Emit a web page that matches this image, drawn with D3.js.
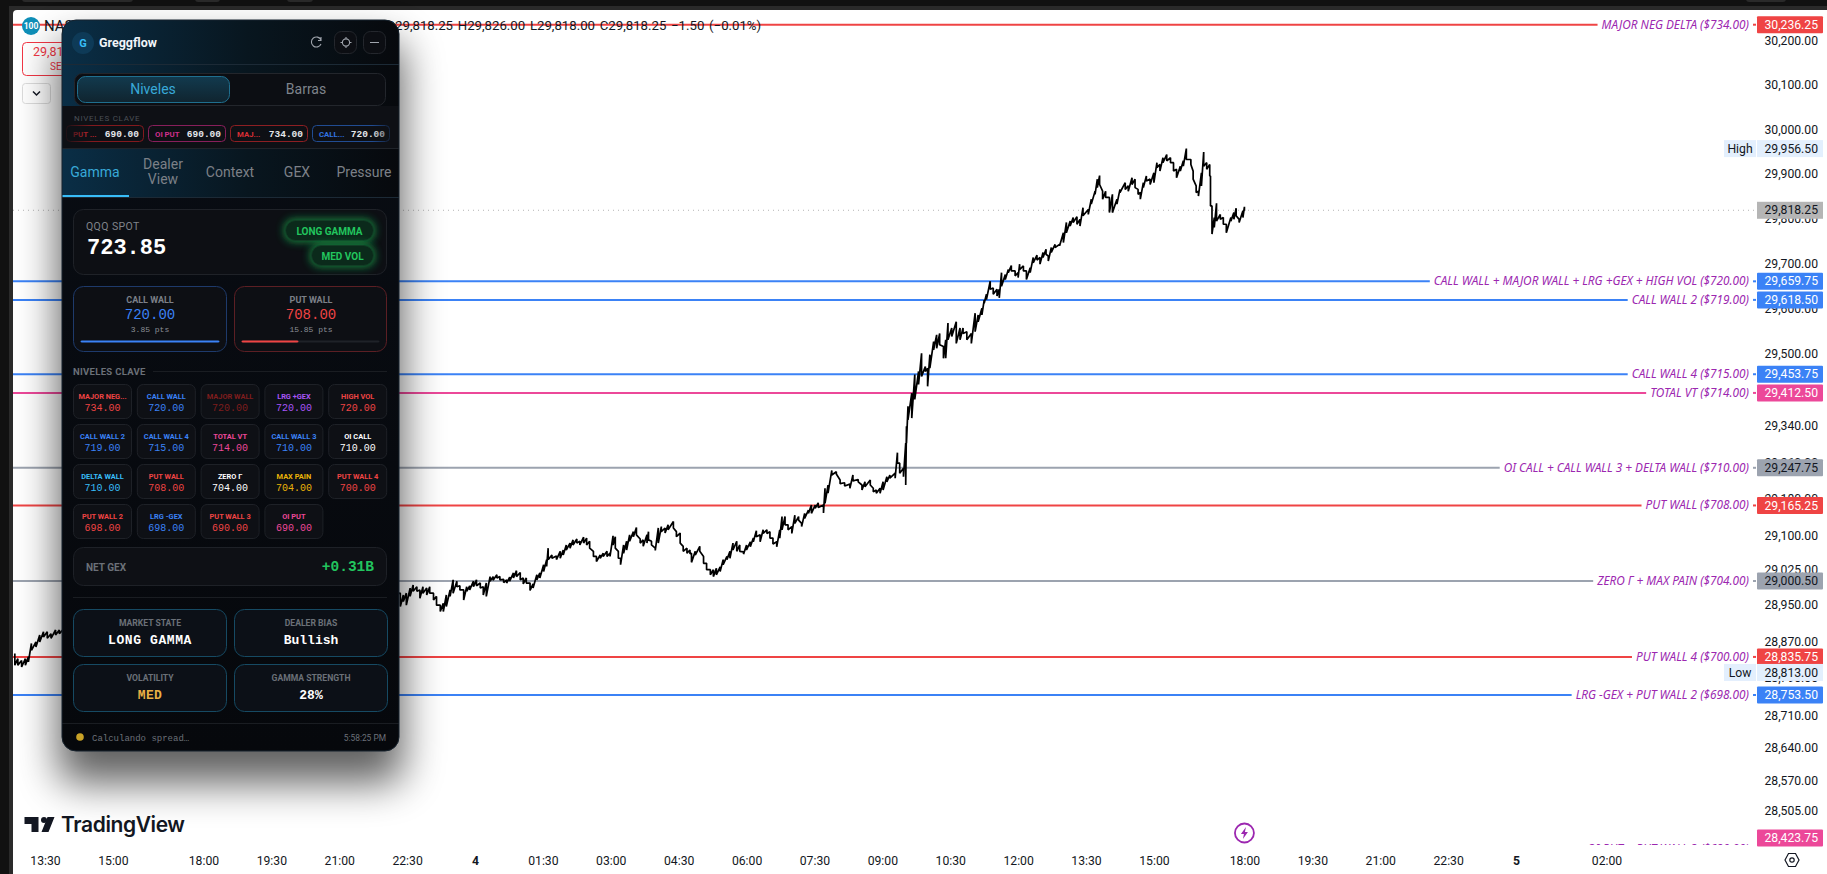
<!DOCTYPE html>
<html>
<head>
<meta charset="utf-8">
<title>NAS100 Greggflow</title>
<script src="https://cdn.jsdelivr.net/npm/d3@7"></script>
<style>
html, body { margin: 0; padding: 0; background: #101010; overflow: hidden; }
svg { display: block; }
</style>
</head>
<body>
<div id="chart"></div>
<script>
// minutes after 13:30 on the first session (closed hour removed), high and low
const barMinute = [-40,-36,-31,-26,-22,-18,-12,-7,-2,3,8,14,19,24,
471,475,479,484,488,493,497,501,506,510,515,519,524,528,532,537,541,546,550,555,559,563,568,572,577,581,585,590,594,599,603,608,612,616,621,625,630,634,638,643,647,652,656,661,665,667,672,678,683,687,691,696,700,705,709,714,718,722,727,731,736,740,745,749,753,756,760,763,767,771,775,780,784,789,793,798,800,804,809,813,817,822,826,833,837,842,846,851,855,857,862,868,873,877,882,886,890,895,899,904,908,912,917,921,
926,930,935,939,943,948,952,957,961,965,970,974,977,981,985,990,994,999,1003,1007,1012,1016,1021,1025,1032,1034,1038,1043,1049,1054,1060,1067,1071,1078,
1083,1087,1094,1098,1102,1107,1111,1116,1120,1127,1130,1133,1138,1141,1142,1144,1149,1153,1158,1162,1167,1170,1173,1178,1182,1186,1191,1194,1197,1202,1208,1213,1217,1222,1228,1233,1237,1242,1245,
1248,1253,1257,1262,1265,1268,1273,1277,1281,1286,1290,1292,1297,1301,1306,1310,1315,1319,1323,1327,1330,1334,1339,1345,1350,1354,1359,1363,1368,1372,1376,1383,1387,1392,1395,1398,1402,1406,1411,1415,1421,1425,1432,1436,1441,1445,1449,1452,1456,1460,1465,1470,1474,1478,1482,1487,1492,1496,1500,1505,1509,1513,1519,1522,1526,1529,1533,1536,1540,1544,1545,1547,1550,1553,1558,1562,1566,1572,1576,1579,1583,1588,1590];
const barHigh = [28843,28832,28828,28832,28836,28865,28868,28883,28890,28890,28886,28894,28894,28895,
28974,28970,28974,28985,28992,28988,28981,28988,28985,28988,28974,28967,28948,28952,28970,28981,29003,29000,28990,28981,28988,28990,29000,29003,28996,28988,28996,29010,29010,29014,29010,29004,29003,29009,29018,29023,29019,29007,29007,28996,28994,29014,29018,29036,29047,29072,29057,29055,29065,29068,29079,29083,29090,29092,29087,29096,29094,29087,29065,29054,29057,29061,29065,29061,29099,29097,29065,29050,29079,29087,29101,29108,29117,29092,29090,29101,29108,29087,29072,29116,29119,29116,29123,29130,29108,29105,29076,29072,29068,29061,29065,29076,29054,29039,29025,29025,29028,29031,29047,29054,29065,29083,29087,29079,
29064,29079,29086,29094,29110,29101,29112,29112,29108,29094,29086,29112,29141,29141,29123,29119,29144,29141,29126,29148,29155,29166,29166,29171,29166,29203,29210,29242,29239,29221,29215,29212,29232,29222,
29210,29217,29221,29203,29199,29203,29217,29228,29232,29236,29281,29258,29247,29302,29339,29383,29412,29453,29460,29500,29471,29467,29497,29526,29541,29544,29515,29530,29567,29556,29570,29556,29556,29548,29544,29589,29585,29600,29618,
29631,29660,29645,29642,29642,29679,29675,29686,29695,29683,29679,29698,29694,29683,29690,29713,29718,29713,29724,29731,29716,29735,29742,29742,29768,29791,29794,29802,29804,29798,29824,29820,29843,29861,29888,29896,29861,29861,29847,29854,29843,29865,29880,29873,29891,29888,29865,29858,29880,29895,29888,29902,29925,29921,29936,29943,29936,29925,29910,29917,29929,29956.5,29932,29906,29873,29861,29902,29949,29925,29921,29895,29828,29802,29834,29809,29802,29787,29802,29813,29823,29798,29817,29826];
const barLow = [28818,28818,28814,28818,28825,28850,28857,28868,28879,28876,28876,28883,28886,28888,
28945,28956,28948,28967,28978,28978,28963,28974,28970,28974,28959,28948,28934,28934,28945,28967,28974,28988,28981,28959,28978,28981,28988,28990,28985,28970,28967,29000,29002,29007,29003,28997,28996,29000,29007,29010,29003,28994,28996,28980,28985,29003,29007,29021,29032,29047,29050,29047,29050,29057,29068,29072,29079,29083,29079,29083,29079,29072,29054,29043,29050,29054,29054,29054,29079,29072,29050,29036,29061,29068,29087,29097,29101,29083,29076,29083,29090,29079,29067,29083,29108,29105,29112,29116,29097,29083,29065,29061,29060,29041,29057,29065,29039,29025,29014,29010,29014,29021,29036,29047,29050,29068,29065,29065,
29059,29068,29075,29086,29097,29086,29104,29104,29094,29081,29075,29094,29112,29123,29112,29104,29126,29133,29119,29137,29148,29148,29159,29161,29149,29170,29192,29232,29234,29213,29208,29203,29219,29217,
29199,29206,29210,29195,29192,29192,29199,29217,29225,29225,29258,29236,29228,29210,29302,29353,29357,29398,29431,29449,29460,29427,29467,29508,29511,29519,29489,29489,29530,29537,29522,29530,29544,29530,29522,29548,29570,29585,29611,
29619,29642,29631,29627,29623,29649,29664,29679,29683,29672,29668,29686,29683,29664,29679,29701,29707,29698,29713,29720,29705,29724,29735,29739,29746,29768,29783,29791,29787,29783,29806,29809,29832,29854,29869,29876,29843,29847,29813,29813,29832,29858,29865,29861,29876,29869,29854,29843,29869,29884,29876,29880,29914,29906,29925,29929,29925,29906,29891,29906,29917,29932,29921,29888,29858,29850,29873,29917,29910,29895,29828,29765,29780,29794,29798,29787,29768,29794,29798,29806,29791,29802,29817];

const priceTicks = [30200,30100,30000,29900,29800,29700,29600,29500,29420,29340,29260,29180,29100,29025,28950,28870,28790,28710,28640,28570,28505];
const timeTicks = [0,90,210,300,390,480,570,660,750,840,930,1020,1110,1200,1290,1380,1470,1590,1680,1770,1860,1950,2070];
const timeLabels = ['13:30','15:00','18:00','19:30','21:00','22:30','4','01:30','03:00','04:30','06:00','07:30','09:00','10:30','12:00','13:30','15:00','18:00','19:30','21:00','22:30','5','02:00'];

const levelPrices = [30236.25,29659.75,29618.50,29453.75,29412.50,29247.75,29165.25,29000.50,28835.75,28753.50,28423.75];
const levelNames = ['MAJOR NEG DELTA ($734.00)','CALL WALL + MAJOR WALL + LRG +GEX + HIGH VOL ($720.00)','CALL WALL 2 ($719.00)','CALL WALL 4 ($715.00)','TOTAL VT ($714.00)','OI CALL + CALL WALL 3 + DELTA WALL ($710.00)','PUT WALL ($708.00)','ZERO Γ + MAX PAIN ($704.00)','PUT WALL 4 ($700.00)','LRG -GEX + PUT WALL 2 ($698.00)','OI PUT + PUT WALL 3 ($690.00)'];
const levelColors = ['#ef4444','#3b82f6','#3b82f6','#3b82f6','#ec4899','#9ca3af','#ef4444','#9ca3af','#ef4444','#3b82f6','#ec4899'];

const chipNames = ['PUT ...','OI PUT','MAJ...','CALL...'];
const chipValues = ['690.00','690.00','734.00','720.00'];
const chipColors = ['#c8262e','#d02f8c','#d82f35','#3274e0'];

const gridNames = ['MAJOR NEG...','CALL WALL','MAJOR WALL','LRG +GEX','HIGH VOL','CALL WALL 2','CALL WALL 4','TOTAL VT','CALL WALL 3','OI CALL','DELTA WALL','PUT WALL','ZERO Γ','MAX PAIN','PUT WALL 4','PUT WALL 2','LRG -GEX','PUT WALL 3','OI PUT'];
const gridValues = ['734.00','720.00','720.00','720.00','720.00','719.00','715.00','714.00','710.00','710.00','710.00','708.00','704.00','704.00','700.00','698.00','698.00','690.00','690.00'];
const gridColors = ['#ef4444','#3b82f6','#7f1d1d','#a855f7','#ef4444','#3b82f6','#3b82f6','#ec4899','#3b82f6','#ffffff','#38bdf8','#ef4444','#ffffff','#eab308','#ef4444','#ef4444','#3b82f6','#ef4444','#ec4899'];

const stateNames = ['MARKET STATE','DEALER BIAS','VOLATILITY','GAMMA STRENGTH'];
const stateValues = ['LONG GAMMA','Bullish','MED','28%'];
const stateColors = ['#ffffff','#ffffff','#eab045','#ffffff'];
const stateSpacing = [0.6, 0, 0.4, 0];

const uiFont = 'Roboto, sans-serif';
const monoFont = '"Liberation Mono", monospace';
const W = 1827, H = 874;
const paneLeft = 13, paneTop = 10, paneBottom = 845, axisLeft = 1757;

const svg = d3.select('#chart').append('svg').attr('width', W).attr('height', H);
const defs = svg.append('defs');

defs.append('clipPath').attr('id', 'pane').append('rect').attr('x', paneLeft).attr('y', paneTop).attr('width', W - paneLeft).attr('height', paneBottom - paneTop);
defs.append('filter').attr('id', 'shadow').attr('x', '-40%').attr('y', '-20%').attr('width', '180%').attr('height', '140%')
	.append('feGaussianBlur').attr('stdDeviation', 20);
defs.append('filter').attr('id', 'glow').attr('x', '-40%').attr('y', '-80%').attr('width', '180%').attr('height', '260%')
	.append('feGaussianBlur').attr('stdDeviation', 4);

function linear(id, x2, y2, stops) {
	const g = defs.append('linearGradient').attr('id', id).attr('x1', 0).attr('y1', 0).attr('x2', x2).attr('y2', y2);
	stops.forEach(s => g.append('stop').attr('offset', s[0]).attr('stop-color', s[1]));
}
linear('panelBand', 1, 0, [[0, '#0a2e46'], [0.55, '#08161f'], [1, '#07090d']]);
linear('panelBody', 0, 1, [[0, '#090d14'], [1, '#06080c']]);
linear('activeTab', 0, 1, [[0, '#123a4e'], [1, '#10242f']]);
linear('fadeL', 1, 0, [[0, '#0e1015'], [1, 'rgba(14,16,21,0)']]);
linear('fadeR', 1, 0, [[0, 'rgba(14,16,21,0)'], [1, '#0e1015']]);

// window chrome around the chart
svg.append('rect').attr('x', 0).attr('y', 0).attr('width', W).attr('height', H).attr('fill', '#111111');
svg.append('rect').attr('x', 9).attr('y', 6).attr('width', W).attr('height', H).attr('fill', '#2a2a2a');
[[22, 111], [195, 25], [287, 26], [1746, 40]].forEach(t => {
	svg.append('rect').attr('x', t[0]).attr('y', -4).attr('width', t[1]).attr('height', 6).attr('rx', 3).attr('fill', '#2a2a2a');
});
svg.append('rect').attr('x', paneLeft).attr('y', paneTop).attr('width', W).attr('height', H).attr('rx', 4).attr('fill', '#ffffff');

const y = d3.scaleLog().domain([30236.25, 28753.5]).range([24.7, 695]);
const x = d3.scaleLinear().domain([0, 1950]).range([45, 1516]);

// level lines and labels
const chart = svg.append('g').attr('clip-path', 'url(#pane)');
chart.append('line').attr('x1', paneLeft).attr('x2', axisLeft - 2).attr('y1', y(29818.25)).attr('y2', y(29818.25))
	.attr('stroke', '#b4b4b4').attr('stroke-dasharray', '1 4');

const labelRight = 1749;
const levels = chart.selectAll('g.level').data(levelPrices).join('g').attr('class', 'level');
levels.append('text')
	.attr('x', labelRight).attr('y', d => y(d) + 4)
	.attr('text-anchor', 'end').attr('font-family', '"Noto Sans", sans-serif').attr('font-style', 'italic').attr('font-size', 11.8)
	.attr('fill', '#9c27b0').text((d, i) => levelNames[i]);
levels.append('line')
	.attr('x1', paneLeft)
	.attr('x2', function() { return labelRight - this.parentNode.querySelector('text').getComputedTextLength() - 4; })
	.attr('y1', d => y(d)).attr('y2', d => y(d))
	.attr('stroke', (d, i) => levelColors[i]).attr('stroke-width', 2);
levels.append('line')
	.attr('x1', 1753).attr('x2', 1756).attr('y1', d => y(d)).attr('y2', d => y(d))
	.attr('stroke', (d, i) => levelColors[i]).attr('stroke-width', 2);

// price path, high then low on every bar
const pathPoints = barMinute.flatMap((m, i) => [[m, barHigh[i]], [m, barLow[i]]]);
chart.append('path').datum(pathPoints)
	.attr('fill', 'none').attr('stroke', '#000').attr('stroke-width', 1.7).attr('stroke-linejoin', 'bevel')
	.attr('d', d3.line().x(d => x(d[0])).y(d => y(d[1])));

// axes
const yAxis = svg.append('g').attr('transform', `translate(1818,0)`)
	.call(d3.axisRight(y).tickValues(priceTicks).tickFormat(d3.format(',.2f')).tickSize(0));
yAxis.select('.domain').remove();
yAxis.selectAll('text').attr('x', 0).attr('text-anchor', 'end').attr('font-family', uiFont).attr('font-size', 12.2).attr('fill', '#131722');

const xAxis = svg.append('g').attr('transform', `translate(0,${paneBottom})`)
	.call(d3.axisBottom(x).tickValues(timeTicks).tickFormat((d, i) => timeLabels[i]).tickSize(0));
xAxis.select('.domain').remove();
xAxis.selectAll('text').attr('y', 11).attr('font-family', uiFont).attr('font-size', 12.2).attr('fill', '#131722')
	.attr('font-weight', (d, i) => timeLabels[i].length === 1 ? 700 : 400);

// price tags, the last one is pushed up by the pane edge
const tags = svg.append('g').selectAll('g').data(levelPrices).join('g')
	.attr('transform', d => `translate(${axisLeft},${Math.min(y(d), paneBottom - 7) - 8.5})`);
tags.append('rect').attr('width', 66).attr('height', 17).attr('rx', 1)
	.attr('fill', (d, i) => levelColors[i]);
tags.append('text').attr('x', 61).attr('y', 12.6).attr('text-anchor', 'end')
	.attr('font-family', uiFont).attr('font-size', 12.2)
	.attr('fill', (d, i) => levelColors[i] === '#9ca3af' ? '#131722' : '#ffffff')
	.text(d => d3.format(',.2f')(d));

function priceTag(price, color, label, nudge) {
	const g = svg.append('g').attr('transform', `translate(${axisLeft},${y(price) - 8.5 + (nudge || 0)})`);
	g.append('rect').attr('width', 66).attr('height', 17).attr('fill', color);
	g.append('text').attr('x', 61).attr('y', 12.6).attr('text-anchor', 'end').attr('font-family', uiFont).attr('font-size', 12.2).attr('fill', '#131722').text(d3.format(',.2f')(price));
	if (label) {
		g.append('rect').attr('x', -33).attr('width', 32).attr('height', 17).attr('fill', color);
		g.append('text').attr('x', -17).attr('y', 12.6).attr('text-anchor', 'middle').attr('font-family', uiFont).attr('font-size', 12.2).attr('fill', '#131722').text(label);
	}
}
priceTag(29818.25, '#b5b5b5');
priceTag(29956.5, '#e3effd', 'High');
priceTag(28813, '#e3effd', 'Low', 5);

// symbol row, mostly hidden by the panel
svg.append('circle').attr('cx', 31).attr('cy', 26).attr('r', 9).attr('fill', '#0f8fb8');
svg.append('text').attr('x', 31).attr('y', 29).attr('text-anchor', 'middle').attr('font-family', uiFont).attr('font-size', 8.5).attr('font-weight', 700).attr('fill', '#fff').text('100');
svg.append('text').attr('x', 44).attr('y', 31).attr('font-family', uiFont).attr('font-size', 15).attr('fill', '#131722').text('NAS100');
svg.append('text').attr('x', 386).attr('y', 30).attr('font-family', uiFont).attr('font-size', 13.2).attr('word-spacing', 1.5).attr('fill', '#131722')
	.text('O29,818.25 H29,826.00 L29,818.00 C29,818.25 −1.50 (−0.01%)');
svg.append('rect').attr('x', 22.5).attr('y', 42.5).attr('width', 60).attr('height', 33).attr('rx', 4).attr('fill', '#fff').attr('stroke', '#f23645');
svg.append('text').attr('x', 33).attr('y', 56).attr('font-family', uiFont).attr('font-size', 12.5).attr('fill', '#f23645').text('29,818');
svg.append('text').attr('x', 50).attr('y', 70).attr('font-family', uiFont).attr('font-size', 10).attr('fill', '#f23645').text('SELL');
svg.append('rect').attr('x', 22.5).attr('y', 83.5).attr('width', 28).attr('height', 20).attr('rx', 3).attr('fill', '#fff').attr('stroke', '#dcdcdc');
svg.append('path').attr('d', 'M33 91.5l3.5 3.5 3.5-3.5').attr('fill', 'none').attr('stroke', '#131722').attr('stroke-width', 1.5);

// TradingView mark, lightning badge and settings glyph
svg.append('path').attr('fill', '#131722').attr('d', 'M24.5 817h14v15h-7v-8h-7z M41.5 832l6-15h7l-6 15z');
svg.append('circle').attr('cx', 44).attr('cy', 820).attr('r', 3).attr('fill', '#131722');
svg.append('text').attr('x', 61).attr('y', 832).attr('font-family', 'Inter, sans-serif').attr('font-weight', 600).attr('font-size', 21).attr('letter-spacing', -0.4).attr('fill', '#131722').text('TradingView');
svg.append('circle').attr('cx', x(1590)).attr('cy', 833).attr('r', 9.5).attr('fill', '#fff').attr('stroke', '#9c27b0').attr('stroke-width', 1.8);
svg.append('path').attr('transform', `translate(${x(1590)},833)`).attr('d', 'M1.5 -6l-5 7h3l-1 5 5-7h-3z').attr('fill', '#9c27b0');
svg.append('path').attr('d', 'M1785 860l3.5-6.5h7l3.5 6.5-3.5 6.5h-7z').attr('fill', 'none').attr('stroke', '#131722').attr('stroke-width', 1.2);
svg.append('circle').attr('cx', 1792).attr('cy', 860).attr('r', 2.2).attr('fill', 'none').attr('stroke', '#131722').attr('stroke-width', 1.2);

// ---- Greggflow panel ----
const px = 62, py = 20, pw = 337, ph = 731;
svg.append('rect').attr('x', px - 4).attr('y', py + 22).attr('width', pw + 8).attr('height', ph + 10).attr('rx', 16)
	.attr('fill', '#000').attr('opacity', 0.62).attr('filter', 'url(#shadow)');
const panelClip = defs.append('clipPath').attr('id', 'panelClip');
panelClip.append('rect').attr('x', px).attr('y', py).attr('width', pw).attr('height', ph).attr('rx', 14);
svg.append('rect').attr('x', px).attr('y', py).attr('width', pw).attr('height', ph).attr('rx', 14).attr('fill', 'url(#panelBody)');
const panel = svg.append('g').attr('clip-path', 'url(#panelClip)');

function box(parent, bx, by, bw, bh, r, fill, stroke) {
	return parent.append('rect').attr('x', bx + 0.5).attr('y', by + 0.5).attr('width', bw - 1).attr('height', bh - 1).attr('rx', r)
		.attr('fill', fill).attr('stroke', stroke || 'none');
}
function label(parent, tx, ty, text, size, color, opts) {
	const o = opts || {};
	return parent.append('text').attr('x', tx).attr('y', ty).attr('font-family', o.font || uiFont).attr('font-size', size).attr('fill', color)
		.attr('font-weight', o.weight || 400).attr('text-anchor', o.anchor || 'start').attr('letter-spacing', o.spacing || 0).text(text);
}
const middle = { anchor: 'middle' };

// header
panel.append('rect').attr('x', px).attr('y', py).attr('width', pw).attr('height', 44).attr('fill', 'url(#panelBand)');
panel.append('line').attr('x1', px).attr('x2', px + pw).attr('y1', 64.5).attr('y2', 64.5).attr('stroke', '#1c2a36');
panel.append('circle').attr('cx', 83).attr('cy', 43).attr('r', 11).attr('fill', '#0f3f5c').attr('opacity', 0.8);
label(panel, 83, 47, 'G', 11, '#38bdf8', { anchor: 'middle', weight: 700 });
label(panel, 99, 47, 'Greggflow', 12.5, '#f1f5f9', { weight: 700 });
panel.append('path').attr('d', 'M321 40a5 5 0 1 0 0 4 M321 37v3.5h-3').attr('fill', 'none').attr('stroke', '#a0a5ad').attr('stroke-width', 1.1);
box(panel, 334, 31, 23, 23, 7, '#0c0e13', '#24272d');
box(panel, 363, 31, 23, 23, 7, '#0c0e13', '#24272d');
panel.append('circle').attr('cx', 346).attr('cy', 42.5).attr('r', 3.6).attr('fill', 'none').attr('stroke', '#a0a5ad').attr('stroke-width', 1.1);
panel.append('path').attr('d', 'M346 37v1.6M346 46.4v1.6M340.5 42.5h1.6M349.9 42.5h1.6').attr('stroke', '#a0a5ad').attr('stroke-width', 1.1);
panel.append('line').attr('x1', 370).attr('x2', 379).attr('y1', 42.5).attr('y2', 42.5).attr('stroke', '#a0a5ad').attr('stroke-width', 1.1);

// niveles / barras switch
panel.append('rect').attr('x', px).attr('y', 65).attr('width', pw).attr('height', 41).attr('fill', 'url(#panelBand)');
box(panel, 74, 73, 312, 33, 8, '#0c0e13', '#23262c');
box(panel, 77, 76, 153, 27, 8, 'url(#activeTab)', '#1f6f8f');
label(panel, 153, 94, 'Niveles', 14, '#38a9d8', middle);
label(panel, 306, 94, 'Barras', 14, '#7f848c', middle);

// chip strip
panel.append('rect').attr('x', px).attr('y', 106).attr('width', pw).attr('height', 43).attr('fill', '#0e1015');
panel.append('line').attr('x1', px).attr('x2', px + pw).attr('y1', 148.5).attr('y2', 148.5).attr('stroke', '#20242a');
label(panel, 74, 121, 'NIVELES CLAVE', 8, '#4b4f55', { spacing: 0.7 });
const chipX = d3.scaleLinear().domain([0, 1]).range([66, 148]);
const chips = panel.selectAll('g.chip').data(chipNames).join('g').attr('class', 'chip')
	.attr('transform', (d, i) => `translate(${chipX(i)},125)`);
chips.append('rect').attr('x', 0.5).attr('y', 0.5).attr('width', 77).attr('height', 16).attr('rx', 4)
	.attr('fill', '#0e1015').attr('stroke', (d, i) => d3.color(chipColors[i]).darker(1.2));
chips.append('text').attr('x', 7).attr('y', 11.5).attr('font-family', uiFont).attr('font-size', 7.8).attr('font-weight', 700)
	.attr('fill', (d, i) => chipColors[i]).text(d => d);
chips.append('text').attr('x', 73).attr('y', 11.5).attr('text-anchor', 'end').attr('font-family', monoFont).attr('font-size', 9.5).attr('font-weight', 700)
	.attr('fill', '#e5e7eb').text((d, i) => chipValues[i]);
panel.append('rect').attr('x', 62).attr('y', 122).attr('width', 30).attr('height', 24).attr('fill', 'url(#fadeL)');
panel.append('rect').attr('x', 372).attr('y', 122).attr('width', 27).attr('height', 24).attr('fill', 'url(#fadeR)');

// main tabs
panel.append('rect').attr('x', px).attr('y', 149).attr('width', pw).attr('height', 48).attr('fill', 'url(#panelBand)');
panel.append('line').attr('x1', px).attr('x2', px + pw).attr('y1', 197.5).attr('y2', 197.5).attr('stroke', '#1c2a36');
panel.append('rect').attr('x', px).attr('y', 195).attr('width', 67).attr('height', 2).attr('fill', '#38bdf8');
label(panel, 95, 177, 'Gamma', 14, '#38a9d8', middle);
label(panel, 163, 169, 'Dealer', 14, '#7c8087', middle);
label(panel, 163, 184, 'View', 14, '#7c8087', middle);
label(panel, 230, 177, 'Context', 14, '#7c8087', middle);
label(panel, 297, 177, 'GEX', 14, '#7c8087', middle);
label(panel, 364, 177, 'Pressure', 14, '#7c8087', middle);

// spot card
box(panel, 73, 209, 314, 66, 10, '#0d0f14', '#1f2228');
label(panel, 86, 230, 'QQQ SPOT', 10.5, '#80848b', { spacing: 0.4 });
label(panel, 87, 254, '723.85', 22, '#ffffff', { font: monoFont, weight: 700 });
[[285, 220, 89, 21, 'LONG GAMMA'], [311, 245, 63, 21, 'MED VOL']].forEach(p => {
	panel.append('rect').attr('x', p[0] - 1).attr('y', p[1] - 1).attr('width', p[2] + 2).attr('height', p[3] + 2).attr('rx', 10).attr('fill', '#16a34a').attr('opacity', 0.8).attr('filter', 'url(#glow)');
	box(panel, p[0], p[1], p[2], p[3], 10, '#0b2a1b', '#123f26');
	label(panel, p[0] + p[2] / 2, p[1] + 14.5, p[4], 10, '#22c55e', { anchor: 'middle', weight: 700 });
});

// call / put wall cards
box(panel, 73, 286, 154, 66, 10, '#0d0f14', '#1e3a6b');
box(panel, 234, 286, 153, 66, 10, '#0d0f14', '#5c1f24');
label(panel, 150, 303, 'CALL WALL', 9, '#7c8088', { anchor: 'middle', weight: 700 });
label(panel, 311, 303, 'PUT WALL', 9, '#7c8088', { anchor: 'middle', weight: 700 });
label(panel, 150, 319, '720.00', 14, '#3b82f6', { anchor: 'middle', font: monoFont });
label(panel, 311, 319, '708.00', 14, '#ef4444', { anchor: 'middle', font: monoFont });
label(panel, 150, 332, '3.85 pts', 8, '#8a8e95', { anchor: 'middle', font: monoFont });
label(panel, 311, 332, '15.85 pts', 8, '#8a8e95', { anchor: 'middle', font: monoFont });
box(panel, 80, 340, 140, 3, 1.5, '#3b82f6');
box(panel, 241, 340, 139, 3, 1.5, '#1f2228');
box(panel, 241, 340, 58, 3, 1.5, '#ef4444');

// level grid
label(panel, 73, 375, 'NIVELES CLAVE', 9.5, '#6b7078', { weight: 700, spacing: 0.3 });
panel.append('line').attr('x1', 153).attr('x2', 387).attr('y1', 371.5).attr('y2', 371.5).attr('stroke', '#1a1d22');
const cellX = d3.scaleLinear().domain([0, 1]).range([73, 136.8]);
const cellY = d3.scaleLinear().domain([0, 1]).range([384, 424]);
const cells = panel.selectAll('g.cell').data(gridNames).join('g').attr('class', 'cell')
	.attr('transform', (d, i) => `translate(${cellX(i % 5)},${cellY(Math.floor(i / 5))})`);
cells.append('rect').attr('x', 0.5).attr('y', 0.5).attr('width', 58).attr('height', 34).attr('rx', 6).attr('fill', '#0e1015').attr('stroke', '#1e2127');
cells.append('text').attr('x', 29.5).attr('y', 14.5).attr('text-anchor', 'middle').attr('font-family', uiFont).attr('font-size', 7.4).attr('font-weight', 700)
	.attr('fill', (d, i) => gridColors[i]).text(d => d);
cells.append('text').attr('x', 29.5).attr('y', 26.5).attr('text-anchor', 'middle').attr('font-family', monoFont).attr('font-size', 10).attr('font-weight', 400)
	.attr('fill', (d, i) => gridColors[i]).text((d, i) => gridValues[i]);

// net gex
box(panel, 73, 547, 314, 39, 10, '#0e1015', '#1e2127');
label(panel, 86, 571, 'NET GEX', 10, '#6b7078', { weight: 700 });
label(panel, 374, 571, '+0.31B', 14.5, '#22c55e', { anchor: 'end', font: monoFont, weight: 700 });
panel.append('line').attr('x1', 73).attr('x2', 387).attr('y1', 597.5).attr('y2', 597.5).attr('stroke', '#1a1d22');

// state cards
const stateX = d3.scaleLinear().domain([0, 1]).range([73, 234]);
const stateY = d3.scaleLinear().domain([0, 1]).range([609, 664]);
const states = panel.selectAll('g.state').data(stateNames).join('g').attr('class', 'state')
	.attr('transform', (d, i) => `translate(${stateX(i % 2)},${stateY(Math.floor(i / 2))})`);
states.append('rect').attr('x', 0.5).attr('y', 0.5).attr('width', 153).attr('height', 47).attr('rx', 10).attr('fill', '#0c1017').attr('stroke', '#164a63');
states.append('text').attr('x', 77).attr('y', 17).attr('text-anchor', 'middle').attr('font-family', uiFont).attr('font-size', 8.6).attr('font-weight', 700).attr('fill', '#6b7078').text(d => d);
states.append('text').attr('x', 77).attr('y', 35).attr('text-anchor', 'middle').attr('font-family', monoFont).attr('font-size', 13).attr('font-weight', 700)
	.attr('letter-spacing', (d, i) => stateSpacing[i])
	.attr('fill', (d, i) => stateColors[i]).text((d, i) => stateValues[i]);

// footer
panel.append('line').attr('x1', px).attr('x2', px + pw).attr('y1', 723.5).attr('y2', 723.5).attr('stroke', '#1a1d22');
panel.append('circle').attr('cx', 80).attr('cy', 737).attr('r', 3.8).attr('fill', '#c9a227');
label(panel, 92, 741, 'Calculando spread…', 9, '#6b7078', { font: monoFont });
label(panel, 386, 741, '5:58:25 PM', 8.4, '#6b7078', { anchor: 'end' });
svg.append('rect').attr('x', px).attr('y', py).attr('width', pw).attr('height', ph).attr('rx', 14).attr('fill', 'none').attr('stroke', '#17232e');
</script>
</body>
</html>
